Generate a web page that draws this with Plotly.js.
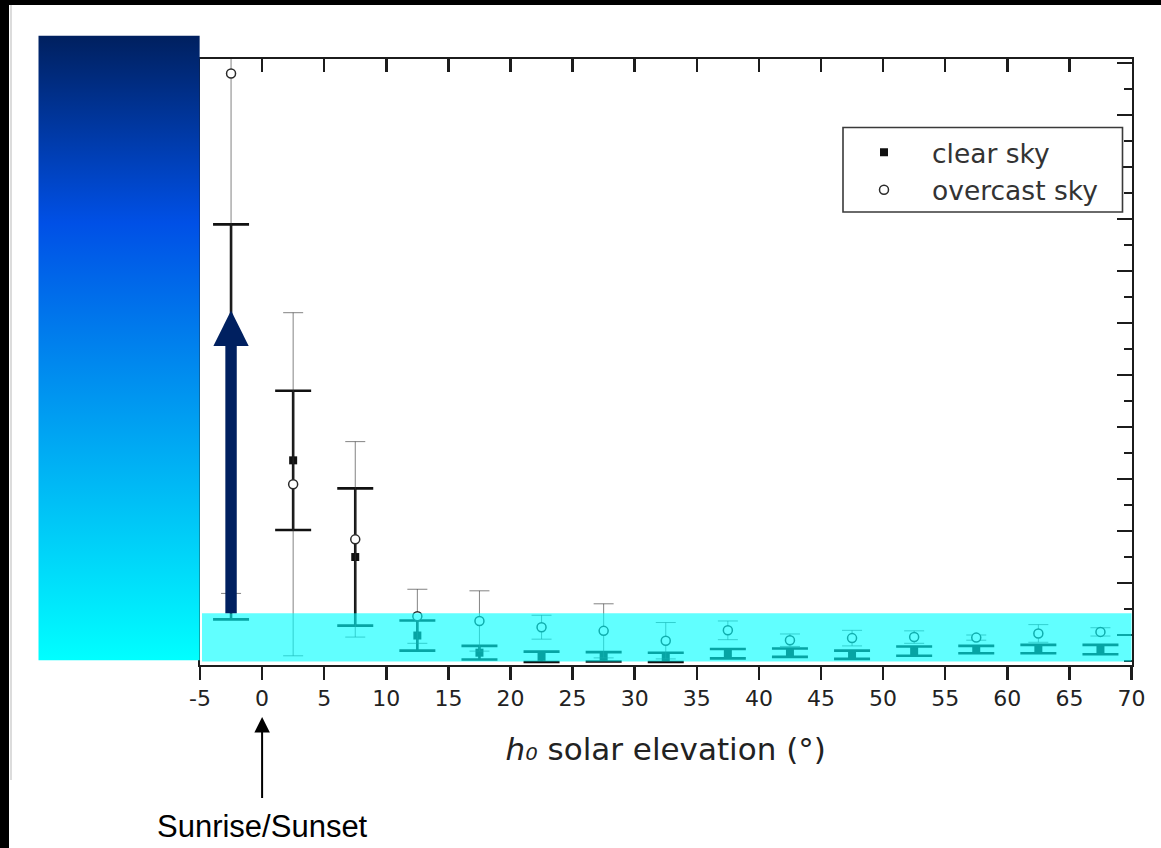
<!DOCTYPE html>
<html>
<head>
<meta charset="utf-8">
<script src="https://cdn.plot.ly/plotly-3.0.1.min.js"></script>
<style>
  html, body { margin: 0; padding: 0; background: #ffffff; }
  #chart { width: 1161px; height: 848px; }
</style>
</head>
<body>
<div id="chart"></div>
<script>
// Solar elevation bins (degrees, bin centres)
const elevation = [-2.5, 2.5, 7.5, 12.5, 17.5, 22.5, 27.5, 32.5, 37.5, 42.5, 47.5, 52.5, 57.5, 62.5, 67.5];

// Clear sky: bin mean and spread
const clearMean   = [46, 38.6, 20, 4.9, 1.6, 0.8, 0.8, 0.7, 1.4, 1.6, 1.2, 1.9, 2.2, 2.3, 2.2];
const clearSpread = [38, 13.4, 13.2, 2.9, 1.3, 1.0, 0.9, 0.9, 0.9, 0.8, 0.8, 0.9, 0.7, 0.8, 0.9];

// Overcast sky: bin mean and spread
const overcastMean   = [113, 34, 23.4, 8.6, 7.7, 6.5, 5.8, 3.9, 5.9, 4.0, 4.4, 4.6, 4.5, 5.3, 5.6];
const overcastSpread = [100, 33, 18.8, 5.2, 5.8, 2.3, 5.2, 3.5, 1.8, 1.2, 1.5, 1.2, 0.5, 1.7, 0.8];

// Elevation axis ticks
const xTickVals = [-5, 0, 5, 10, 15, 20, 25, 30, 35, 40, 45, 50, 55, 60, 65, 70];
const xTickText = ['-5', '0', '5', '10', '15', '20', '25', '30', '35', '40', '45', '50', '55', '60', '65', '70'];

// Series names
const seriesNames = ['clear sky', 'overcast sky'];

// Big upward arrow in the first bin (tail, neck and tip heights in y units)
const arrowX = -2.5;
const arrowTail = 9.2, arrowNeck = 60.6, arrowTip = 67.4;
const arrowShaftHalf = 0.46, arrowHeadHalf = 1.42;

// Page geometry helpers (pixels -> paper fractions)
const W = 1161, H = 848;
const px = v => v / W;
const py = v => 1 - v / H;

const yRange = [-0.77, 115.9];
const figFont = 'DejaVu Sans, Arial, sans-serif';
const ink = '#1c1c1c';

const clear = {
  type: 'scatter',
  mode: 'markers',
  name: seriesNames[0],
  legendgroup: 'clear',
  x: elevation,
  y: clearMean,
  error_y: { type: 'data', array: clearSpread, symmetric: true,
             color: '#111111', thickness: 2.6, width: 18 },
  marker: { symbol: 'square', size: 8, color: '#111111' },
  xaxis: 'x', yaxis: 'y',
  hoverinfo: 'x+y'
};

const overcast = {
  type: 'scatter',
  mode: 'markers',
  name: seriesNames[1],
  legendgroup: 'overcast',
  x: elevation,
  y: overcastMean,
  error_y: { type: 'data', array: overcastSpread, symmetric: true,
             color: 'rgba(55,55,55,0.62)', thickness: 1, width: 10 },
  marker: { symbol: 'circle', size: 9, color: '#ffffff',
            line: { color: '#2a2a2a', width: 1.5 } },
  xaxis: 'x2', yaxis: 'y',
  hoverinfo: 'x+y'
};

// Vertical blue gradient panel at the left of the plot
const gradSvg =
  '<svg xmlns="http://www.w3.org/2000/svg" width="162" height="625" viewBox="0 0 162 625" preserveAspectRatio="none">' +
  '<defs><linearGradient id="g" x1="0" y1="0" x2="0" y2="1">' +
  '<stop offset="0" stop-color="#00205f"/>' +
  '<stop offset="0.3" stop-color="#0050e6"/>' +
  '<stop offset="1" stop-color="#00ffff"/>' +
  '</linearGradient></defs>' +
  '<rect x="0" y="0" width="162" height="625" fill="url(#g)"/></svg>';

const arrowColor = '#002060';

const layout = {
  width: W, height: H,
  margin: { l: 0, r: 0, t: 0, b: 0, pad: 0 },
  paper_bgcolor: '#ffffff',
  plot_bgcolor: 'rgba(0,0,0,0)',
  showlegend: true,
  legend: {
    x: px(836), y: py(171),
    xanchor: 'left', yanchor: 'middle',
    bgcolor: 'rgba(0,0,0,0)', borderwidth: 0,
    itemwidth: 86, tracegroupgap: 0,
    font: { family: figFont, size: 26.5, color: '#333333' }
  },
  xaxis: {
    domain: [px(200), px(1131.5)],
    range: [-5, 70],
    anchor: 'y',
    tickmode: 'array', tickvals: xTickVals, ticktext: xTickText,
    ticks: 'outside', ticklen: 13, tickwidth: 2.5, tickcolor: ink,
    showline: true, linecolor: ink, linewidth: 2, mirror: true,
    showgrid: false, zeroline: false,
    tickfont: { family: figFont, size: 22, color: '#222222' },
    title: { text: '<i>h₀</i> solar elevation (°)',
             font: { family: figFont, size: 31, color: '#222222' },
             standoff: 28 },
    automargin: false, fixedrange: true
  },
  xaxis2: {
    overlaying: 'x', side: 'top', anchor: 'y',
    range: [-5, 70],
    tickmode: 'array', tickvals: xTickVals,
    ticks: 'inside', ticklen: 13, tickwidth: 2.5, tickcolor: ink,
    showticklabels: false, showline: false, showgrid: false, zeroline: false,
    fixedrange: true
  },
  yaxis: {
    domain: [py(665), py(58.5)],
    range: yRange,
    anchor: 'x', side: 'right',
    tick0: 5, dtick: 10,
    ticks: 'inside', ticklen: 15, tickwidth: 2.5, tickcolor: ink,
    minor: { ticks: 'inside', ticklen: 8, tickwidth: 2, tickcolor: ink, tick0: 0, dtick: 5 },
    showticklabels: false,
    showline: true, linecolor: ink, linewidth: 2, mirror: true,
    showgrid: false, zeroline: false,
    automargin: false, fixedrange: true
  },
  images: [{
    source: 'data:image/svg+xml;base64,' + btoa(gradSvg),
    xref: 'paper', yref: 'paper',
    x: px(38.3), y: py(35.5), sizex: px(199.8) - px(38.3), sizey: (660.5 - 35.5) / H,
    xanchor: 'left', yanchor: 'top', sizing: 'stretch', layer: 'above'
  }],
  shapes: [
    // translucent cyan band over the low-error region
    { type: 'rect', xref: 'paper', yref: 'paper', layer: 'above',
      x0: px(202), x1: px(1131.5), y0: py(661.5), y1: py(613.3),
      fillcolor: 'rgba(0,255,255,0.62)', line: { width: 0 } },
    // big navy arrow: shaft and head
    { type: 'rect', xref: 'x', yref: 'y', layer: 'above',
      x0: arrowX - arrowShaftHalf, x1: arrowX + arrowShaftHalf,
      y0: arrowTail, y1: arrowNeck + 0.3,
      fillcolor: arrowColor, line: { width: 0 } },
    { type: 'path', xref: 'x', yref: 'y', layer: 'above',
      path: 'M' + (arrowX - arrowHeadHalf) + ',' + arrowNeck +
            ' L' + (arrowX + arrowHeadHalf) + ',' + arrowNeck +
            ' L' + arrowX + ',' + arrowTip + ' Z',
      fillcolor: arrowColor, line: { width: 0 } },
    // legend frame
    { type: 'rect', xref: 'paper', yref: 'paper', layer: 'above',
      x0: px(843), x1: px(1122.5), y0: py(212), y1: py(127.5),
      fillcolor: '#ffffff', line: { color: '#3a3a3a', width: 1.6 } },
    // page border
    { type: 'rect', xref: 'paper', yref: 'paper', layer: 'above',
      x0: 0, x1: px(9), y0: 0, y1: 1, fillcolor: '#000000', line: { width: 0 } },
    { type: 'rect', xref: 'paper', yref: 'paper', layer: 'above',
      x0: 0, x1: 1, y0: py(5), y1: 1, fillcolor: '#000000', line: { width: 0 } },
    { type: 'line', xref: 'paper', yref: 'paper', layer: 'above',
      x0: px(11), x1: px(11), y0: py(5), y1: py(780),
      line: { color: '#dcdcdc', width: 2 } }
  ],
  annotations: [
    // sunrise / sunset marker under the axis
    { xref: 'x', yref: 'paper', x: 0, y: py(717),
      ax: 0, ay: 109,
      text: 'Sunrise/Sunset', showarrow: true,
      arrowhead: 2, arrowwidth: 2, arrowsize: 1.55, arrowcolor: '#000000',
      borderpad: 10,
      font: { family: 'Liberation Sans, Arial, sans-serif', size: 31, color: '#000000' } }
  ]
};

Plotly.newPlot('chart', [clear, overcast], layout, { staticPlot: true, displayModeBar: false });
</script>
</body>
</html>
